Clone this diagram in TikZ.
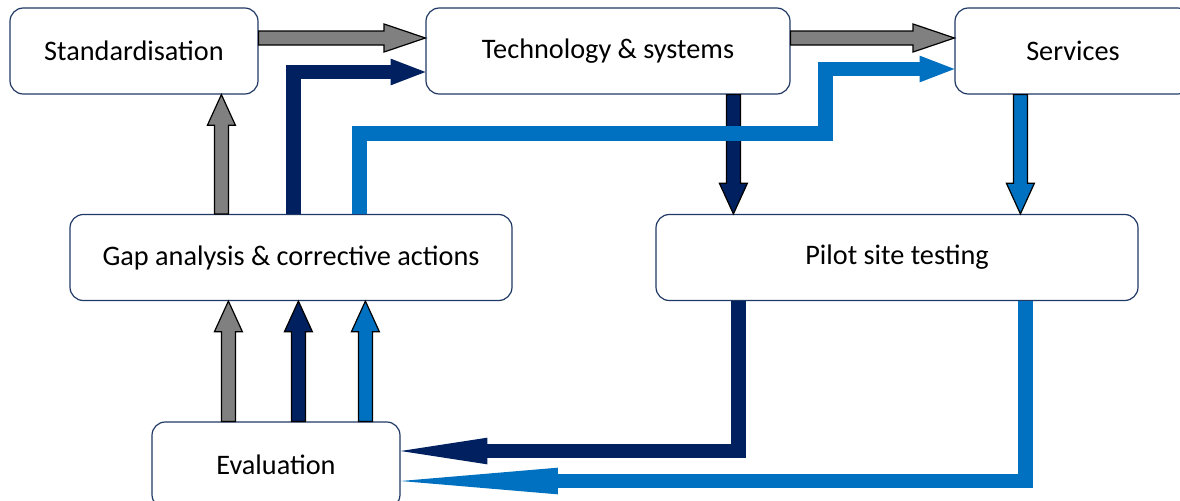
\documentclass[tikz,border=0pt]{standalone}
\usepackage{fontspec}
\setmainfont{Carlito}
\usetikzlibrary{arrows.meta,calc}

\definecolor{navy}{HTML}{002060}
\definecolor{lightblue}{HTML}{0070C0}
\definecolor{arrgray}{HTML}{808080}
\definecolor{edgeblue}{HTML}{203864}

\newcommand{\headlen}{23pt}
\newcommand{\shaftw}{5.25pt}
\newcommand{\headw}{10.5pt}

\tikzset{
  box/.style={draw=edgeblue, line width=0.9pt, rounded corners=10pt, fill=white,
    minimum height=64.5pt, inner sep=0pt, font=\fontsize{21.2}{25}\selectfont},
  hl/.code={\def\headlen{#1}},
  barrow/.style={draw=black, line width=0.9pt, line join=miter, fill=#1,
    to path={
      ($(\tikztotarget)!\headlen!(\tikztostart)$) coordinate (hb)
      ($(\tikztostart)!\shaftw!90:(\tikztotarget)$)
      -- ($(hb)!\shaftw!90:(\tikztotarget)$)
      -- ($(hb)!\headw!90:(\tikztotarget)$)
      -- (\tikztotarget)
      -- ($(hb)!\headw!-90:(\tikztotarget)$)
      -- ($(hb)!\shaftw!-90:(\tikztotarget)$)
      -- ($(\tikztostart)!\shaftw!-90:(\tikztotarget)$) -- cycle}},
  flow/.style={draw=#1, line width=11pt, line join=miter},
}

\begin{document}
\begin{tikzpicture}[x=0.75pt, y=-0.75pt]
    \useasboundingbox (0,0) rectangle (1180,500);

    % Boxes
    \node[box, minimum width=186pt]   (std)   at (134,51)    {Standardisation};
    \node[box, minimum width=273pt]   (tech)  at (608,51)    {Technology \& systems};
    \node[box, minimum width=177pt]   (serv)  at (1073,51)   {Services};
    \node[box, minimum width=331.5pt] (gap)   at (291,257.5) {Gap analysis \& corrective actions};
    \node[box, minimum width=361.5pt] (pilot) at (897,257.5) {Pilot site testing};
    \node[box, minimum width=186pt]   (eval)  at (276,465)   {Evaluation};

    % Block arrows along the top
    \draw[barrow=arrgray, hl=31pt] ($(std.east)+(0,-13)$) to ($(tech.west)+(0,-13)$);
    \draw[barrow=arrgray, hl=31pt] ($(tech.east)+(0,-13)$) to ($(serv.west)+(0,-13)$);

    % Block arrows going down
    \draw[barrow=navy]      ($(tech.south west)+(308,0)$) to ($(pilot.north west)+(78,0)$);
    \draw[barrow=lightblue] ($(serv.south west)+(66,0)$)  to ($(pilot.north west)+(365,0)$);

    % Block arrows going up
    \draw[barrow=arrgray]   ($(gap.north west)+(152,0)$)  to ($(std.south west)+(212,0)$);
    \draw[barrow=arrgray]   ($(eval.north west)+(77,0)$)  to ($(gap.south west)+(159,0)$);
    \draw[barrow=navy]      ($(eval.north west)+(147,0)$) to ($(gap.south west)+(229,0)$);
    \draw[barrow=lightblue] ($(eval.north west)+(214,0)$) to ($(gap.south west)+(296,0)$);

    % Feedback loops
    \draw[flow=navy, -{Triangle[length=26pt, width=20pt, line width=0pt]}]
        ($(gap.north west)+(224,0)$) |- ($(tech.west)+(0,21)$);
    \draw[flow=lightblue, -{Triangle[length=26pt, width=20pt, line width=0pt]}]
        ($(gap.north west)+(290,0)$) |- ($(tech.south east)+(35,39)$) |- ($(serv.west)+(0,18)$);
    \draw[flow=navy, -{Triangle[length=65pt, width=20pt, line width=0pt]}]
        ($(pilot.south west)+(83,0)$) |- ($(eval.east)+(0,-14)$);
    \draw[flow=lightblue, -{Triangle[length=118pt, width=20pt, line width=0pt]}]
        ($(pilot.south west)+(370,0)$) |- ($(eval.east)+(0,16)$);

\end{tikzpicture}
\end{document}
